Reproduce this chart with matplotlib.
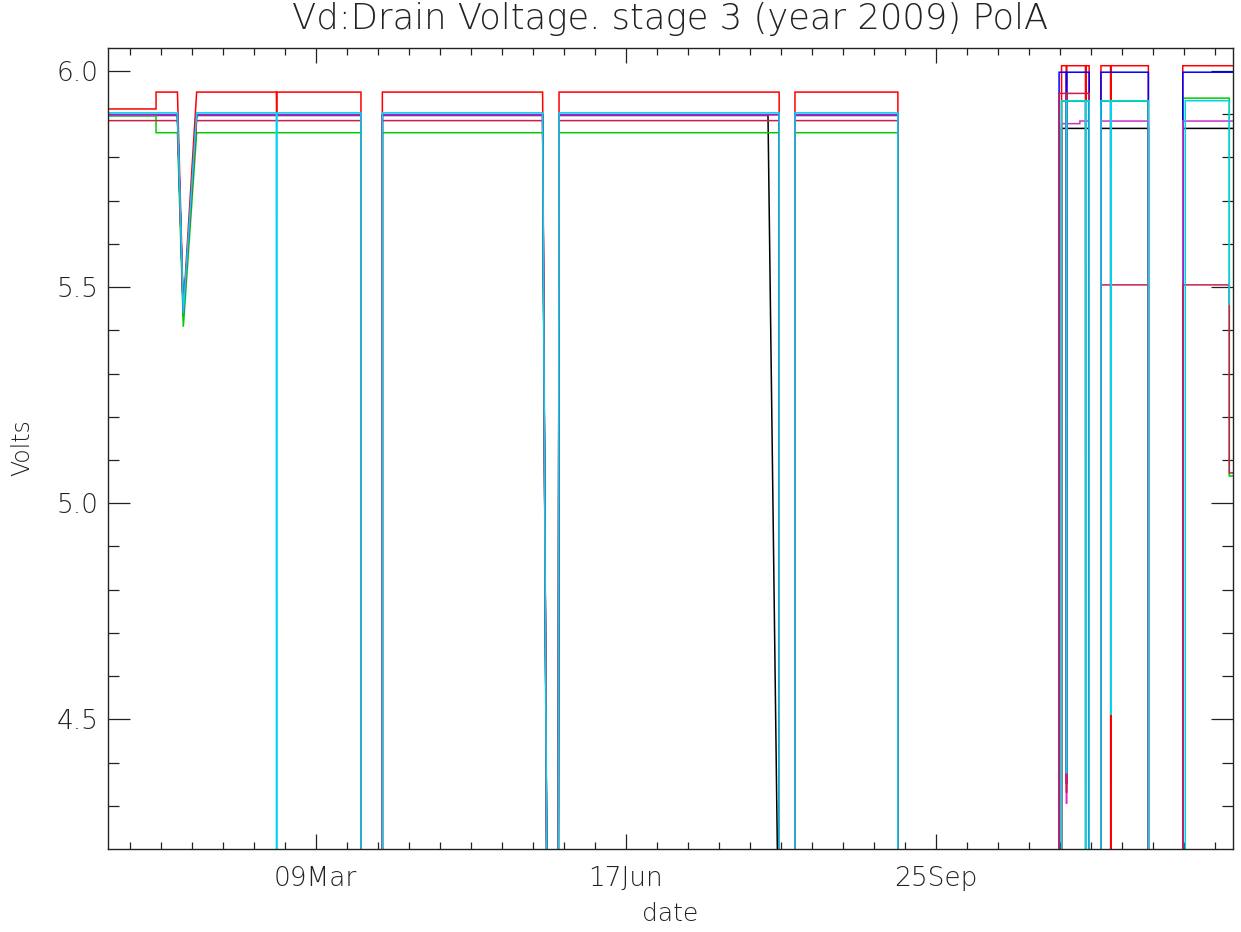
import matplotlib
matplotlib.use("Agg")
import matplotlib.pyplot as plt
from matplotlib.ticker import FixedLocator, NullFormatter

plt.rcParams["font.family"] = ["DejaVu Sans"]
plt.rcParams["font.weight"] = "light"

# ---- data (x = days since 1 Jan 2009, y = Volts) ----
title = "Vd:Drain Voltage. stage 3 (year 2009) PolA"
xlabel = "date"
ylabel = "Volts"
xtick_days = [67, 167, 267]
xtick_labels = ["09Mar", "17Jun", "25Sep"]
ytick_values = [4.5, 5.0, 5.5, 6.0]
ytick_labels = ["4.5", "5.0", "5.5", "6.0"]

d_black = [0, 22.4, 24.3, 28.6, 81.6, 81.6, 88.5, 88.5, 140.2, 144.7, 145.5, 212.9, 221.6, 221.6,
           254.8, 254.8, 307.6, 307.6, 316.5, 316.5, 320.3, 320.3, 335.6, 335.6, 346.7, 346.7, 362.9]
v_black = [5.897, 5.897, 5.43, 5.897, 5.897, 0, 0, 5.897, 5.897, 0, 5.897, 5.897, 1.0, 5.897,
           5.897, 0, 0, 5.867, 5.867, 0, 0, 5.867, 5.867, 0, 0, 5.867, 5.867]

d_red = [0, 15.5, 15.5, 22.4, 24.3, 28.6, 54.3, 54.4, 54.5, 81.6, 81.6, 88.5, 88.5, 140.2, 144.7, 145.5,
         216.5, 216.5, 221.6, 221.6, 254.8, 254.8, 307.6, 307.6, 309.1, 309.2, 309.3, 315.3, 315.4, 315.5,
         316.5, 316.5, 320.3, 320.3, 323.4, 323.5, 323.6, 335.6, 335.6, 346.7, 346.7, 362.9]
v_red = [5.912, 5.912, 5.951, 5.951, 5.45, 5.951, 5.951, 5.90, 5.951, 5.951, 0, 0, 5.951, 5.951, 0, 5.951,
         5.951, 0, 0, 5.951, 5.951, 0, 0, 6.012, 6.012, 4.35, 6.012, 6.012, 0, 6.012,
         6.012, 0, 0, 6.012, 6.012, 0, 6.012, 6.012, 0, 0, 6.012, 6.012]

d_green = [0, 15.5, 15.5, 22.4, 24.3, 28.6, 81.6, 81.6, 88.5, 88.5, 140.2, 144.7, 145.5, 216.5, 216.5,
           221.6, 221.6, 254.8, 254.8, 307.6, 307.6, 316.5, 316.5, 320.3, 320.3, 335.6, 335.6, 346.7,
           346.7, 361.7, 361.7, 362.9]
v_green = [5.896, 5.896, 5.857, 5.857, 5.408, 5.857, 5.857, 0, 0, 5.857, 5.857, 0, 5.857, 5.857, 0,
           0, 5.857, 5.857, 0, 0, 5.930, 5.930, 0, 0, 5.930, 5.930, 0, 0,
           5.937, 5.937, 5.063, 5.063]

d_blue = [0, 22.4, 24.3, 28.6, 81.6, 81.6, 88.5, 88.5, 140.2, 144.7, 145.5, 216.5, 216.5, 221.6, 221.6,
          254.8, 254.8, 306.8, 306.8, 309.1, 309.2, 309.3, 316.5, 316.5, 320.3, 320.3, 335.6, 335.6,
          346.7, 346.7, 362.9]
v_blue = [5.899, 5.899, 5.44, 5.899, 5.899, 0, 0, 5.899, 5.899, 0, 5.899, 5.899, 0, 0, 5.899,
          5.899, 0, 0, 5.997, 5.997, 4.35, 5.997, 5.997, 0, 0, 5.997, 5.997, 0,
          0, 5.997, 5.997]

d_magenta = [0, 22.4, 24.3, 28.6, 81.6, 81.6, 88.5, 88.5, 140.2, 144.7, 145.5, 216.5, 216.5, 221.6, 221.6,
             254.8, 254.8, 307.6, 307.6, 309.1, 309.2, 309.3, 313.5, 313.5, 316.5, 316.5, 320.3, 320.3,
             335.6, 335.6, 346.7, 346.7, 362.9]
v_magenta = [5.898, 5.898, 5.44, 5.898, 5.898, 0, 0, 5.898, 5.898, 0, 5.898, 5.898, 0, 0, 5.898,
             5.898, 0, 0, 5.878, 5.878, 4.305, 5.878, 5.878, 5.884, 5.884, 0, 0, 5.884,
             5.884, 0, 0, 5.884, 5.884]

d_crimson = [0, 22.4, 24.3, 28.6, 81.6, 81.6, 88.5, 88.5, 140.2, 144.7, 145.5, 216.5, 216.5, 221.6, 221.6,
             254.8, 254.8, 306.8, 306.8, 309.1, 309.2, 309.3, 316.5, 316.5, 320.3, 320.3, 335.6, 335.6,
             346.7, 346.7, 361.7, 361.7, 362.9]
v_crimson = [5.885, 5.885, 5.44, 5.885, 5.885, 0, 0, 5.885, 5.885, 0, 5.885, 5.885, 0, 0, 5.885,
             5.885, 0, 0, 5.948, 5.948, 4.33, 5.948, 5.948, 0, 0, 5.505, 5.505, 0,
             0, 5.505, 5.505, 5.07, 5.07]

d_cyan = [0, 22.4, 24.3, 28.6, 54.3, 54.4, 54.5, 81.6, 81.6, 88.5, 88.5, 140.2, 144.7, 145.5, 216.5, 216.5,
          221.6, 221.6, 254.8, 254.8, 307.6, 307.6, 309.1, 309.2, 309.3, 315.3, 315.4, 315.5, 316.5, 316.5,
          320.3, 320.3, 323.4, 323.5, 323.6, 335.6, 335.6, 347.5, 347.5, 361.7, 361.7]
v_cyan = [5.903, 5.903, 5.44, 5.903, 5.903, 0, 5.903, 5.903, 0, 0, 5.903, 5.903, 0, 5.903, 5.903, 0,
          0, 5.903, 5.903, 0, 0, 5.931, 5.931, 4.375, 5.931, 5.931, 0, 5.931, 5.931, 0,
          0, 5.931, 5.931, 4.51, 5.931, 5.931, 0, 0, 5.931, 5.931, 5.46]

series = [
    (d_black, v_black, "#000000"),
    (d_red, v_red, "#ff0000"),
    (d_green, v_green, "#00cc00"),
    (d_blue, v_blue, "#0000ff"),
    (d_magenta, v_magenta, "#d030c8"),
    (d_crimson, v_crimson, "#c8204c"),
    (d_cyan, v_cyan, "#00d4f0"),
]

# ---- figure ----
W, H = 1241, 932
fig = plt.figure(figsize=(W / 100, H / 100), dpi=100)
ax = fig.add_axes([108 / W, 1 - 849 / H, (1233 - 108) / W, (849 - 48) / H])

for d, v, c in series:
    ax.plot(d, v, color=c, lw=1.1, solid_joinstyle="miter")

ax.set_xlim(0, 362.9)
ax.set_ylim(4.2, 6.053)

ax.xaxis.set_major_locator(FixedLocator(xtick_days))
ax.set_xticklabels(xtick_labels)
ax.xaxis.set_minor_locator(FixedLocator([7 + 10 * i for i in range(36) if (7 + 10 * i) % 100 != 67]))
ax.yaxis.set_major_locator(FixedLocator(ytick_values))
ax.set_yticklabels(ytick_labels)
ax.yaxis.set_minor_locator(FixedLocator([4.3, 4.4, 4.6, 4.7, 4.8, 4.9, 5.1, 5.2, 5.3, 5.4, 5.6, 5.7, 5.8, 5.9]))
ax.xaxis.set_minor_formatter(NullFormatter())

tc = "#222222"
ax.tick_params(axis="x", which="major", direction="in", length=11, width=0.9, top=True,
               labelsize=19, pad=12, colors=tc)
ax.tick_params(axis="x", which="minor", direction="in", length=5.3, width=0.9, top=True, colors=tc)
ax.tick_params(axis="y", which="major", direction="in", length=16, width=0.9, right=True,
               labelsize=19, pad=7, colors=tc)
ax.tick_params(axis="y", which="minor", direction="in", length=8, width=0.9, right=True, colors=tc)

for s in ax.spines.values():
    s.set_linewidth(1.0)
    s.set_color(tc)

fig.text(670.5 / W, 1 - 19 / H, title, ha="center", va="center", fontsize=25.5, color=tc)
fig.text(670.5 / W, 1 - 914 / H, xlabel, ha="center", va="center", fontsize=18, color=tc)
fig.text(22 / W, 1 - 448 / H, ylabel, ha="center", va="center", rotation=90, fontsize=17, color=tc)

fig.savefig("out.png", dpi=100)
